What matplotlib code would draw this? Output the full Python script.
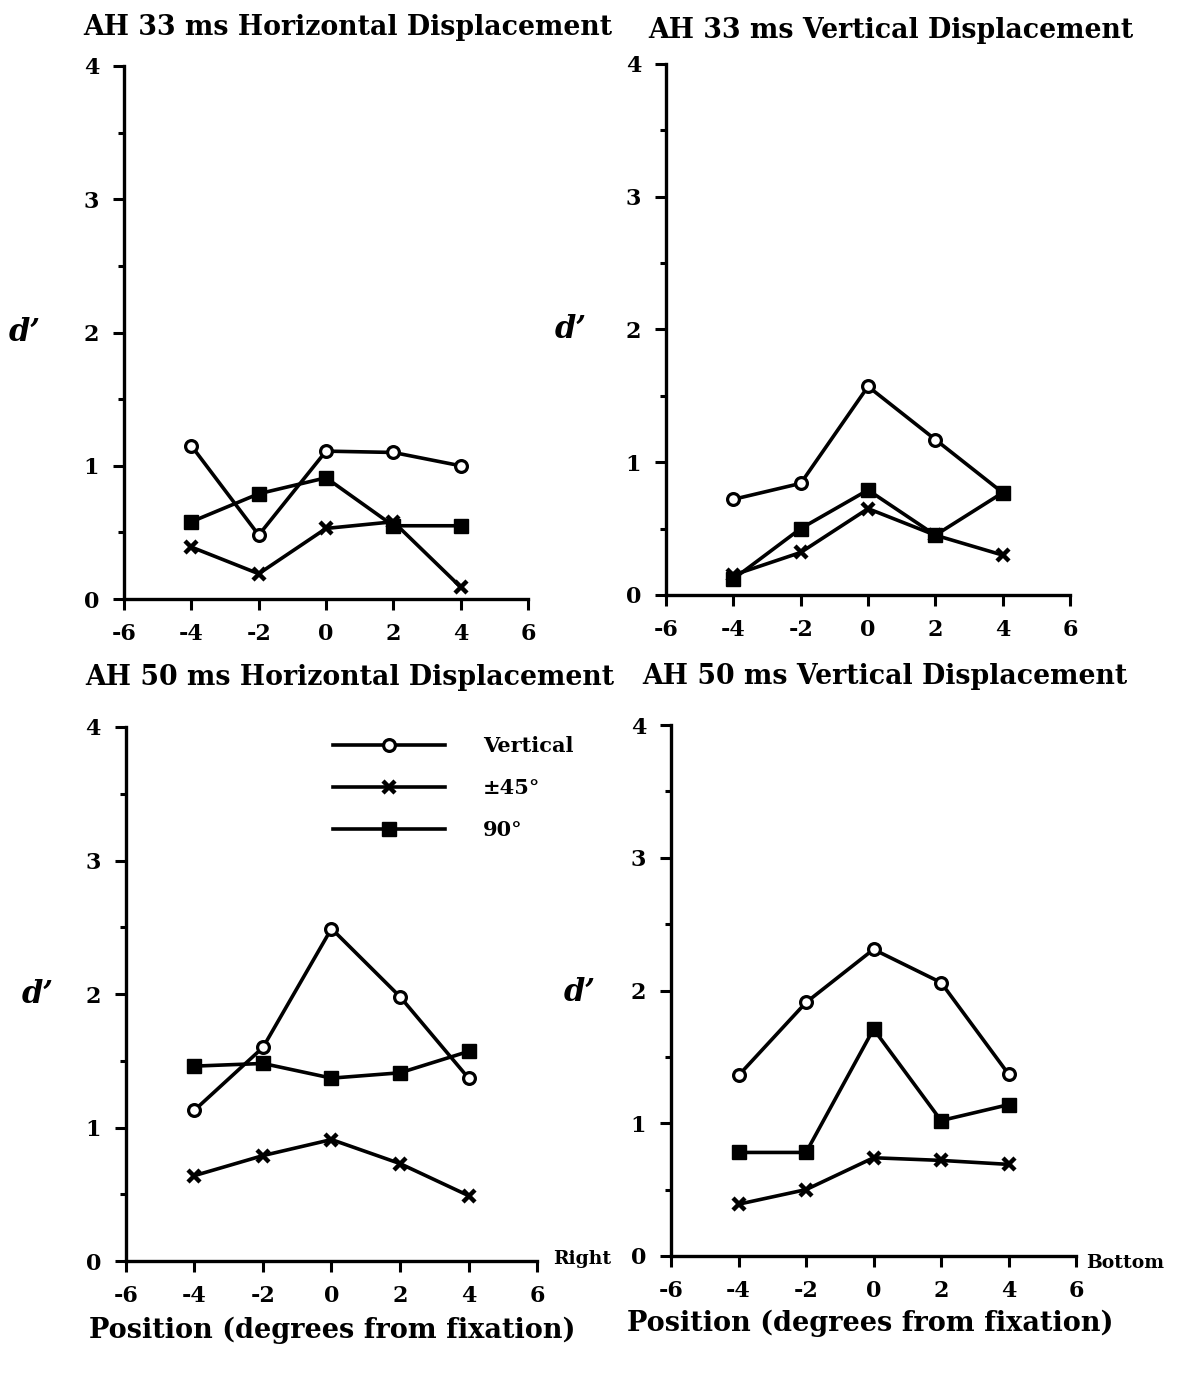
import matplotlib
matplotlib.use('Agg')
import matplotlib.pyplot as plt

# positions (degrees from fixation)
positions = [-4, -2, 0, 2, 4]

# d' values, AH 33 ms
h33_vertical = [1.15, 0.48, 1.11, 1.10, 1.00]
h33_diag = [0.39, 0.19, 0.53, 0.58, 0.09]
h33_ninety = [0.58, 0.79, 0.91, 0.55, 0.55]

v33_vertical = [0.72, 0.84, 1.57, 1.17, 0.77]
v33_diag = [0.15, 0.32, 0.65, 0.45, 0.30]
v33_ninety = [0.12, 0.50, 0.79, 0.45, 0.77]

# d' values, AH 50 ms
h50_vertical = [1.13, 1.60, 2.49, 1.98, 1.37]
h50_diag = [0.64, 0.79, 0.91, 0.73, 0.49]
h50_ninety = [1.46, 1.48, 1.37, 1.41, 1.57]

v50_vertical = [1.36, 1.91, 2.31, 2.06, 1.37]
v50_diag = [0.39, 0.50, 0.74, 0.72, 0.69]
v50_ninety = [0.78, 0.78, 1.71, 1.02, 1.14]

series_labels = ['Vertical', '\u00b145\u00b0', '90\u00b0']
titles = ['AH 33 ms Horizontal Displacement', 'AH 33 ms Vertical Displacement',
          'AH 50 ms Horizontal Displacement', 'AH 50 ms Vertical Displacement']
xticks = [-6, -4, -2, 0, 2, 4, 6]
yticks = [0, 1, 2, 3, 4]

plt.rcParams['font.family'] = 'DejaVu Serif'
plt.rcParams['font.weight'] = 'bold'
plt.rcParams['axes.unicode_minus'] = False

fig = plt.figure(figsize=(11.86, 13.74), dpi=100)

panels = [
    ([0.1046, 0.564, 0.3406, 0.388], (h33_vertical, h33_diag, h33_ninety)),
    ([0.5616, 0.567, 0.3406, 0.3866], (v33_vertical, v33_diag, v33_ninety)),
    ([0.1062, 0.0822, 0.3466, 0.3887], (h50_vertical, h50_diag, h50_ninety)),
    ([0.5658, 0.0859, 0.3415, 0.3864], (v50_vertical, v50_diag, v50_ninety)),
]

lw = 2.6
axes = []
for rect, (vert, diag, ninety) in panels:
    ax = fig.add_axes(rect)
    ax.plot(positions, vert, color='black', lw=lw, marker='o', ms=8.5,
            mfc='white', mec='black', mew=2.3, label=series_labels[0])
    ax.plot(positions, diag, color='black', lw=lw, marker='x', ms=9,
            mec='black', mew=3.2, label=series_labels[1])
    ax.plot(positions, ninety, color='black', lw=lw, marker='s', ms=10.5,
            mfc='black', mec='black', label=series_labels[2])
    ax.set_xlim(-6, 6)
    ax.set_ylim(0, 4)
    ax.set_xticks(xticks)
    ax.set_yticks(yticks)
    ax.set_yticks([0.5, 1.5, 2.5, 3.5], minor=True)
    for s in ['top', 'right']:
        ax.spines[s].set_visible(False)
    for s in ['left', 'bottom']:
        ax.spines[s].set_linewidth(2.4)
    ax.tick_params(axis='both', which='major', length=8, width=2.2, labelsize=16, direction='out')
    ax.tick_params(axis='y', which='minor', length=4, width=2.2)
    ax.tick_params(axis='x', pad=9)
    ax.tick_params(axis='y', pad=10)
    for lab in ax.get_xticklabels() + ax.get_yticklabels():
        lab.set_fontweight('bold')
    for ln in ax.lines:
        ln.set_clip_on(False)
    axes.append(ax)

# legend inside the 50 ms horizontal panel
axes[2].legend(loc='upper left', bbox_to_anchor=(0.458, 1.018), frameon=False,
               handlelength=5.4, handletextpad=1.8, labelspacing=1.05,
               numpoints=1, prop={'size': 15, 'weight': 'bold'})

# panel titles
fig.text(0.293, 0.980, titles[0], ha='center', va='center', fontsize=19.3, fontweight='bold')
fig.text(0.751, 0.978, titles[1], ha='center', va='center', fontsize=19.3, fontweight='bold')
fig.text(0.295, 0.507, titles[2], ha='center', va='center', fontsize=19.3, fontweight='bold')
fig.text(0.746, 0.508, titles[3], ha='center', va='center', fontsize=19.3, fontweight='bold')

# d' labels
for x, y in [(0.021, 0.758), (0.481, 0.760), (0.032, 0.276), (0.489, 0.278)]:
    fig.text(x, y, "d\u2019", ha='center', va='center', fontsize=22,
             fontweight='bold', fontstyle='italic')

# end-of-axis labels
fig.text(0.491, 0.084, 'Right', ha='center', va='center', fontsize=13.5, fontweight='bold')
fig.text(0.949, 0.081, 'Bottom', ha='center', va='center', fontsize=13.5, fontweight='bold')

# x-axis titles
fig.text(0.28, 0.032, 'Position (degrees from fixation)', ha='center', va='center',
         fontsize=19.5, fontweight='bold')
fig.text(0.734, 0.037, 'Position (degrees from fixation)', ha='center', va='center',
         fontsize=19.5, fontweight='bold')

fig.savefig('out.png', dpi=100)
